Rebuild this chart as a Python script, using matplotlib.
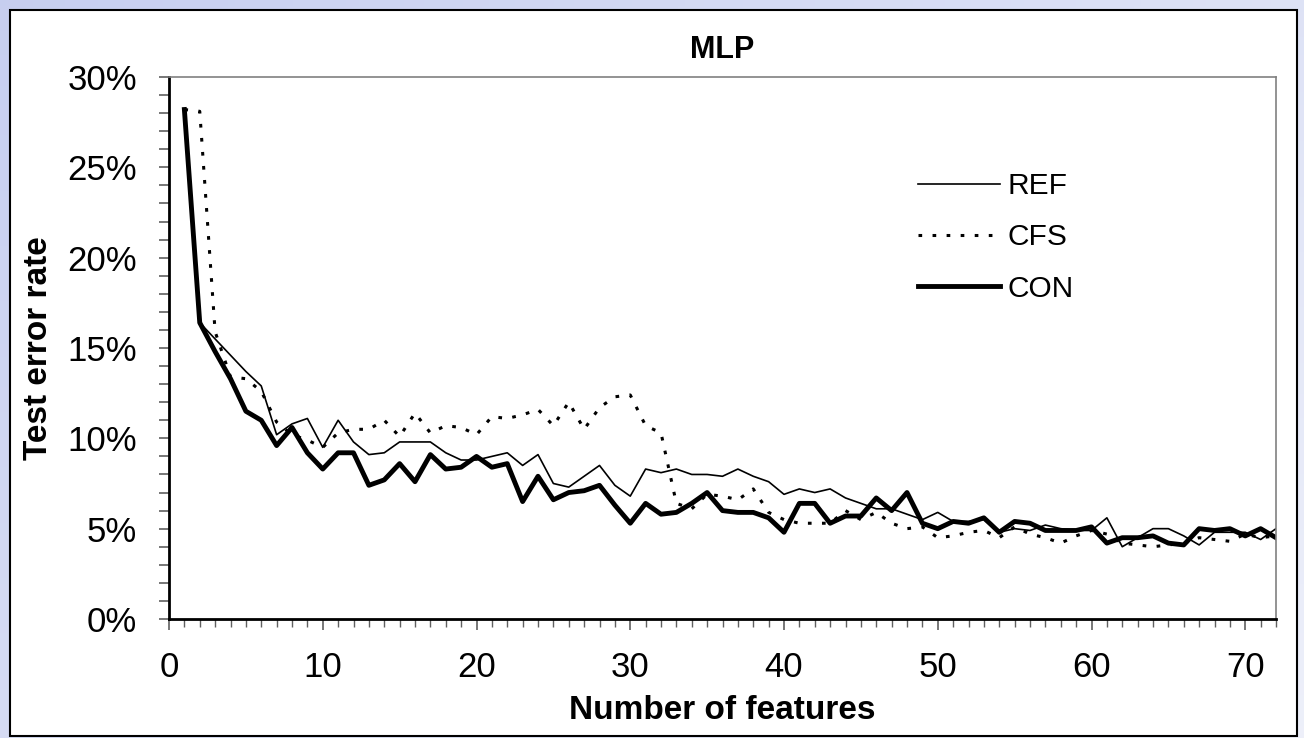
import numpy as np
import matplotlib.pyplot as plt
from matplotlib.patches import Rectangle
from matplotlib.ticker import MultipleLocator, PercentFormatter

plt.rcParams['font.family'] = ['Liberation Sans', 'DejaVu Sans']

# number of features and test error rates (%)
n_features = np.arange(1, 73)

ref = [28.2, 16.4, 15.5, 14.6, 13.7, 12.9, 10.2, 10.8, 11.1, 9.5,
       11.0, 9.8, 9.1, 9.2, 9.8, 9.8, 9.8, 9.2, 8.8, 8.8,
       9.0, 9.2, 8.5, 9.1, 7.5, 7.3, 7.9, 8.5, 7.4, 6.8,
       8.3, 8.1, 8.3, 8.0, 8.0, 7.9, 8.3, 7.9, 7.6, 6.9,
       7.2, 7.0, 7.2, 6.7, 6.4, 6.1, 6.1, 5.8, 5.5, 5.9,
       5.4, 5.4, 5.5, 4.8, 5.0, 4.9, 5.2, 5.0, 4.9, 4.9,
       5.6, 4.0, 4.5, 5.0, 5.0, 4.6, 4.1, 4.8, 4.8, 4.8,
       4.4, 5.0]

cfs = [28.2, 28.1, 15.9, 13.4, 13.3, 12.6, 10.9, 10.2, 9.9, 9.5,
       10.3, 10.5, 10.5, 11.0, 10.1, 11.4, 10.3, 10.7, 10.6, 10.2,
       11.2, 11.1, 11.3, 11.6, 10.7, 12.0, 10.5, 11.7, 12.3, 12.4,
       10.7, 10.3, 6.4, 6.1, 6.9, 6.8, 6.6, 7.2, 5.9, 5.5,
       5.3, 5.3, 5.3, 6.0, 5.5, 5.9, 5.3, 5.0, 5.1, 4.5,
       4.6, 4.8, 4.9, 4.5, 5.1, 4.7, 4.5, 4.2, 4.6, 4.9,
       4.7, 4.2, 4.1, 4.0, 4.1, 4.2, 4.5, 4.4, 4.3, 4.7,
       4.5, 4.6]

con = [28.2, 16.4, 14.8, 13.3, 11.5, 11.0, 9.6, 10.6, 9.2, 8.3,
       9.2, 9.2, 7.4, 7.7, 8.6, 7.6, 9.1, 8.3, 8.4, 9.0,
       8.4, 8.6, 6.5, 7.9, 6.6, 7.0, 7.1, 7.4, 6.3, 5.3,
       6.4, 5.8, 5.9, 6.4, 7.0, 6.0, 5.9, 5.9, 5.6, 4.8,
       6.4, 6.4, 5.3, 5.7, 5.7, 6.7, 6.0, 7.0, 5.3, 5.0,
       5.4, 5.3, 5.6, 4.8, 5.4, 5.3, 4.9, 4.9, 4.9, 5.1,
       4.2, 4.5, 4.5, 4.6, 4.2, 4.1, 5.0, 4.9, 5.0, 4.6,
       5.0, 4.5]

W, H = 1304, 738
fig = plt.figure(figsize=(W / 100, H / 100), dpi=100)

# light blue gradient behind the chart box
bg = fig.add_axes([0, 0, 1, 1], zorder=-10)
gx, gy = np.meshgrid(np.linspace(0, 1, 200), np.linspace(0, 1, 120))
grad = 0.6 * gx + 0.4 * gy
c0 = np.array([0.78, 0.81, 0.94])
c1 = np.array([0.93, 0.94, 0.98])
img = c0 + (c1 - c0) * grad[..., None]
bg.imshow(img, extent=[0, 1, 0, 1], aspect='auto')
bg.axis('off')

fig.patches.append(Rectangle((10 / W, 2 / H), 1287 / W, 726 / H, transform=fig.transFigure,
                             facecolor='white', edgecolor='black', linewidth=1.5, zorder=-5))

ax = fig.add_axes([169 / W, 1 - 619 / H, 1107 / W, 542 / H])
ax.patch.set_alpha(0)

ax.plot(n_features, ref, color='black', linewidth=1.2, label='REF')
ax.plot(n_features, cfs, color='black', linewidth=2.2, linestyle=(0, (1.2, 3.4)), label='CFS')
ax.plot(n_features, con, color='black', linewidth=3.5, label='CON')

ax.set_xlim(0, 72)
ax.set_ylim(0, 30)
ax.xaxis.set_major_locator(MultipleLocator(10))
ax.xaxis.set_minor_locator(MultipleLocator(1))
ax.yaxis.set_major_locator(MultipleLocator(5))
ax.yaxis.set_minor_locator(MultipleLocator(1))
ax.yaxis.set_major_formatter(PercentFormatter(decimals=0))

for s in ['top', 'right']:
    ax.spines[s].set_color('#808080')
    ax.spines[s].set_linewidth(1.2)
for s in ['left', 'bottom']:
    ax.spines[s].set_color('black')
    ax.spines[s].set_linewidth(2)

ax.tick_params(axis='y', which='both', direction='out', length=7, width=1.2,
               color='#606060', labelsize=25, pad=16)
ax.tick_params(axis='x', which='major', direction='out', length=8, width=1.2,
               color='#606060', labelsize=25, pad=15)
ax.tick_params(axis='x', which='minor', direction='out', length=6, width=1.0, color='#606060')

ax.set_title('MLP', fontsize=22, fontweight='bold', pad=14)
ax.set_xlabel('Number of features', fontsize=24, fontweight='bold', va='center')
ax.xaxis.set_label_coords(0.5, -0.168)
ax.set_ylabel('Test error rate', fontsize=24, fontweight='bold', va='center')
ax.yaxis.set_label_coords(-0.118, 0.5)

ax.legend(loc='upper left', bbox_to_anchor=(918 / W, 1 - 172 / H), bbox_transform=fig.transFigure,
          frameon=False, fontsize=21.5, borderpad=0, borderaxespad=0,
          handlelength=2.74, handletextpad=0.27, labelspacing=0.78)

plt.savefig('out.png', dpi=100)
